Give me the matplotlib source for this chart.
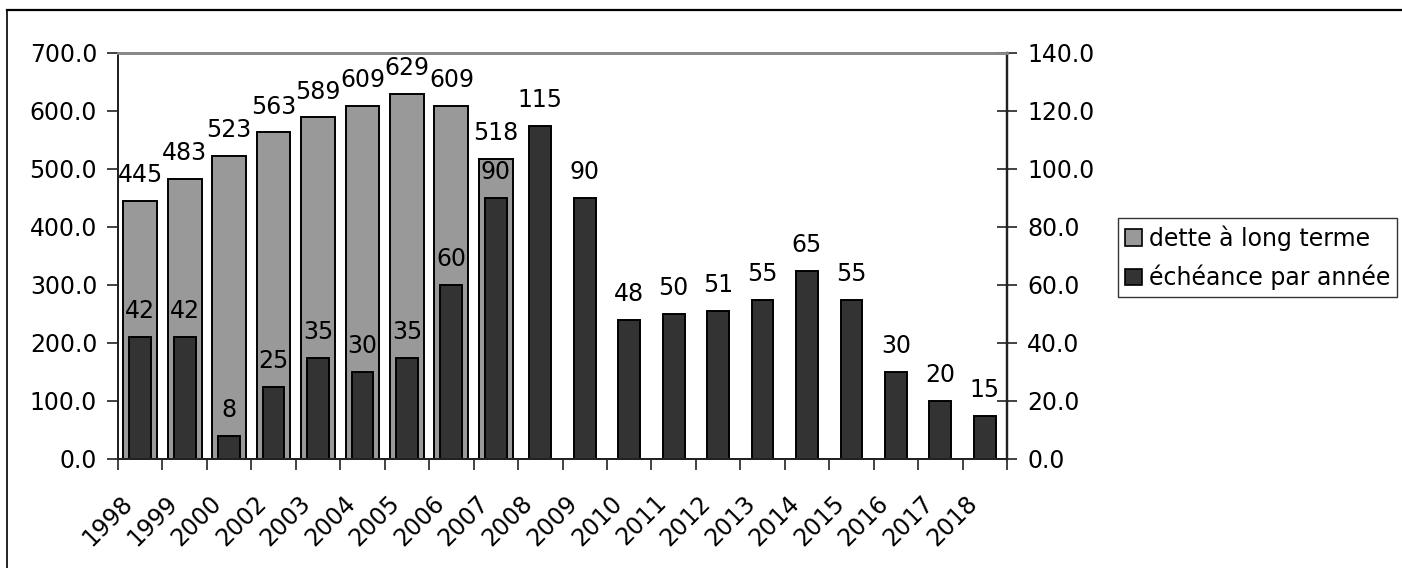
import matplotlib
matplotlib.use("Agg")
import matplotlib.pyplot as plt
from matplotlib.lines import Line2D
from matplotlib.patches import Patch
from matplotlib.transforms import ScaledTranslation
import numpy as np

years = ["1998", "1999", "2000", "2002", "2003", "2004", "2005", "2006", "2007", "2008",
         "2009", "2010", "2011", "2012", "2013", "2014", "2015", "2016", "2017", "2018"]
dette = [445, 483, 523, 563, 589, 609, 629, 609, 518]
echeance = [42, 42, 8, 25, 35, 30, 35, 60, 90, 115, 90, 48, 50, 51, 55, 65, 55, 30, 20, 15]
left_ticks = [0, 100, 200, 300, 400, 500, 600, 700]
right_ticks = [0, 20, 40, 60, 80, 100, 120, 140]
series_names = ["dette à long terme", "échéance par année"]

FS = 17
plt.rcParams['font.family'] = ['DejaVu Sans']
W, H = 1402, 568
fig = plt.figure(figsize=(W / 100, H / 100), dpi=100)
L, R, T, B = 118, 1007, 53, 459
ax = fig.add_axes([L / W, 1 - B / H, (R - L) / W, (B - T) / H])
ax2 = ax.twinx()

x = np.arange(len(years))
gray = "#999999"
dark = "#333333"
ax.bar(x[:len(dette)], dette, width=0.76, color=gray, edgecolor="black", linewidth=1.4, zorder=2)
ax2.bar(x, echeance, width=0.49, color=dark, edgecolor="black", linewidth=1.4, zorder=2)

for xi, v in zip(x, dette):
    ax.annotate(f"{v}", (xi, v), xytext=(0, 13.5), textcoords="offset points",
                ha="center", va="baseline", fontsize=FS, color="black")
for xi, v in zip(x, echeance):
    ax2.annotate(f"{v}", (xi, v), xytext=(0, 13.5), textcoords="offset points",
                 ha="center", va="baseline", fontsize=FS, color="black")

ax.set_xlim(-0.5, len(years) - 0.5)
ax.set_ylim(0, 700)
ax2.set_ylim(0, 140)
ax.set_yticks(left_ticks)
ax.set_yticklabels([f"{v:.1f}" for v in left_ticks], fontsize=FS)
ax2.set_yticks(right_ticks)
ax2.set_yticklabels([f"{v:.1f}" for v in right_ticks], fontsize=FS)

ax.set_xticks(x)
ax.set_xticklabels(years, fontsize=FS, rotation=45, ha="right", va="center", rotation_mode="anchor")
ax.set_xticks(np.arange(len(years) + 1) - 0.5, minor=True)
ax.tick_params(axis="x", which="major", length=0, pad=29)
ax.tick_params(axis="x", which="minor", length=8, width=1.2, direction="out", color="#222222")
for lab in ax.get_xticklabels():
    lab.set_transform(lab.get_transform() + ScaledTranslation(-0.11, 0, fig.dpi_scale_trans))

ax.tick_params(axis="y", length=8, width=1.2, direction="out", pad=7, color="#222222")
ax2.tick_params(axis="y", length=15, width=1.2, direction="inout", pad=7, color="#222222")

for a in (ax, ax2):
    a.spines["top"].set_color("#888888")
    a.spines["top"].set_linewidth(2)
    a.spines["left"].set_color("#222222")
    a.spines["left"].set_linewidth(1.4)
    a.spines["right"].set_color("#222222")
    a.spines["right"].set_linewidth(1.6)
    a.spines["bottom"].set_color("#222222")
    a.spines["bottom"].set_linewidth(1.4)

handles = [Patch(facecolor=gray, edgecolor="black", linewidth=1.2),
           Patch(facecolor=dark, edgecolor="black", linewidth=1.2)]
leg = ax2.legend(handles, series_names, loc="upper left",
                 bbox_to_anchor=(1118 / W, 1 - 218 / H), bbox_transform=fig.transFigure,
                 fontsize=FS, frameon=True, fancybox=False, framealpha=1,
                 handlelength=0.7, handleheight=0.7, handletextpad=0.3,
                 labelspacing=0.6, borderpad=0.3, borderaxespad=0)
leg.get_frame().set_edgecolor("#333333")
leg.get_frame().set_linewidth(1.0)

# outer chart border (top and left edges visible)
fig.add_artist(Line2D([7 / W, 7 / W], [0, 1 - 10 / H], transform=fig.transFigure, color="black", linewidth=1.2))
fig.add_artist(Line2D([7 / W, 1], [1 - 10 / H, 1 - 10 / H], transform=fig.transFigure, color="black", linewidth=1.6))

fig.savefig("out.png", dpi=100)
